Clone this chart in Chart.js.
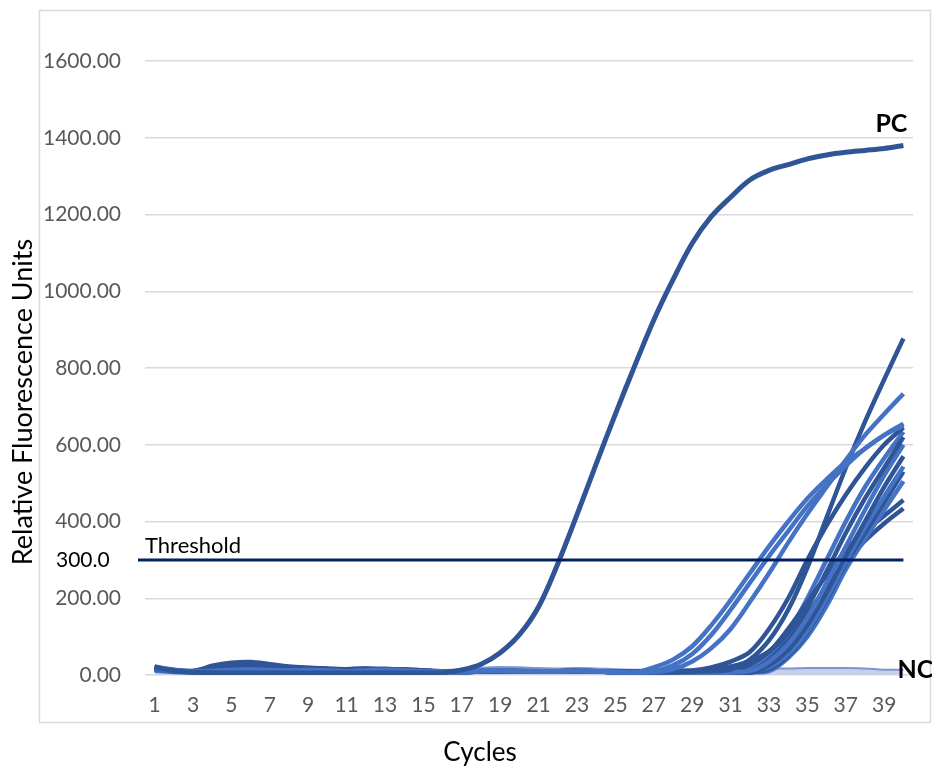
<!DOCTYPE html>
<html>
<head>
<meta charset="utf-8">
<title>qPCR amplification curves</title>
<script src="https://cdn.jsdelivr.net/npm/chart.js@4/dist/chart.umd.min.js"></script>
<style>
  html, body { margin: 0; padding: 0; background: #fff; }
  #wrap { width: 932px; height: 769px; }
</style>
</head>
<body>
<div id="wrap"><canvas id="myChart" width="932" height="769"></canvas></div>
<script>
// cycles on the x axis
const cycles = [1,2,3,4,5,6,7,8,9,10,11,12,13,14,15,16,17,18,19,20,
                21,22,23,24,25,26,27,28,29,30,31,32,33,34,35,36,37,38,39,40];

// y axis ticks
const yTicks = [0, 200, 400, 600, 800, 1000, 1200, 1400, 1600];
const threshold = 300;

// positive control
const pc = [20,11,7,6,5,5,5,5,5,5,5,5,5,5,5,6,13,28,58,105,
            178,290,418,550,680,805,925,1030,1125,1195,1245,1290,1315,1330,1345,1355,1362,1367,1372,1380];

// samples (light = #4472c4, dark = #2f5597)
const s01 = [22,14,10,10,12,14,12,11,13,12,10,12,14,12,10,9,10,12,11,10,9,10,12,10,8,
             6,20,40,75,130,195,265,335,400,460,510,555,590,625,655];
const s02 = [18,12,9,11,14,15,13,12,12,11,10,11,12,11,9,8,9,11,12,11,10,9,11,10,8,
             7,10,25,55,105,170,240,310,375,440,495,545,590,625,650];
const s03 = [16,11,8,9,11,12,11,10,11,10,9,10,11,10,9,8,8,10,11,10,9,9,10,9,8,
             7,8,15,35,70,120,190,265,345,420,490,560,625,680,733];
const s04 = [20,13,10,24,32,34,28,22,19,17,15,17,14,15,12,10,9,10,11,11,10,10,11,10,9,
             8,8,8,9,10,15,40,90,170,280,410,540,660,770,877];
const s05 = [18,12,11,20,28,30,24,20,18,16,15,16,14,14,12,10,9,10,11,10,10,10,11,10,9,
             8,9,10,12,20,35,60,120,200,300,390,470,540,600,645];
const s06 = [15,10,9,12,16,18,16,14,15,13,12,14,13,12,10,9,8,9,10,10,9,9,10,9,8,
             8,8,8,10,14,22,36,62,108,178,270,370,460,540,620];
const s07 = [14,9,8,10,13,15,13,12,14,13,12,13,14,12,10,9,8,9,10,9,9,9,10,9,8,
             8,8,8,8,8,8,10,35,80,150,240,335,430,520,600];
const s08 = [17,11,9,14,20,22,18,16,16,14,13,15,16,13,11,9,9,10,10,10,9,10,10,9,8,
             8,8,8,8,8,8,5,25,65,130,215,310,400,490,570];
const s09 = [12,8,7,9,11,12,11,10,12,11,10,11,12,11,9,8,8,9,10,9,9,9,9,9,8,
             8,8,8,8,8,8,8,20,55,115,200,295,385,465,543];
const s10 = [16,10,9,13,18,20,17,15,15,14,13,15,14,13,11,9,8,9,10,10,9,9,10,9,8,
             8,8,8,8,8,8,8,15,50,110,195,290,370,450,530];
const s11 = [13,9,8,10,12,13,12,11,12,11,10,12,12,11,9,8,8,9,10,9,9,9,9,9,8,
             8,8,8,8,8,8,8,10,45,100,180,275,355,430,505];
const s12 = [15,10,9,12,15,16,15,13,14,13,12,13,13,12,10,9,8,9,10,10,9,9,10,9,8,
             8,8,8,8,10,14,26,60,120,190,260,325,375,415,456];
const s13 = [14,10,9,11,14,15,14,13,13,12,11,12,12,11,10,9,8,9,10,9,9,9,9,9,8,
             8,8,8,8,8,8,10,40,90,160,230,295,350,395,434];
const s14 = [16,11,9,12,15,17,15,14,14,13,12,13,13,12,10,9,8,9,10,10,9,9,10,9,8,
             8,8,8,8,8,8,15,45,110,200,300,400,490,565,634];

// negative control
const nc = [16,14,12,12,13,14,13,14,15,14,13,14,15,14,13,13,15,19,21,20,
            18,17,18,17,15,14,15,16,15,14,15,16,17,17,18,18,18,17,14,14];

const LIGHT = '#4472c4';
const DARK = '#2f5597';
const FONT = 'Lato, "Open Sans", sans-serif';

const samples = [
  [s01, LIGHT], [s02, LIGHT], [s03, LIGHT], [s04, DARK], [s05, DARK],
  [s06, DARK], [s07, LIGHT], [s08, DARK], [s09, LIGHT], [s10, DARK],
  [s11, LIGHT], [s12, DARK], [s13, DARK], [s14, LIGHT]
];

function line(label, data, color, width) {
  return {
    label: label,
    data: data,
    borderColor: color,
    borderWidth: width,
    pointRadius: 0,
    tension: 0.35,
    fill: false
  };
}

const datasets = [line('PC', pc, DARK, 5)];
samples.forEach((s, i) => datasets.push(line('S' + (i + 1), s[0], s[1], 4.5)));
datasets.push({
  label: 'NC',
  data: nc,
  borderColor: '#7f95cf',
  borderWidth: 2,
  backgroundColor: '#c8d0e9',
  pointRadius: 0,
  tension: 0.35,
  fill: 'origin'
});

// frame, threshold line and the free text labels
const overlay = {
  id: 'overlay',
  beforeDraw(chart) {
    const c = chart.ctx;
    c.save();
    c.strokeStyle = '#d9d9d9';
    c.lineWidth = 1.5;
    c.strokeRect(39.5, 10.5, 891, 712);
    c.restore();
  },
  afterDatasetsDraw(chart) {
    const c = chart.ctx;
    const x = chart.scales.x, y = chart.scales.y;
    const area = chart.chartArea;
    const ty = y.getPixelForValue(threshold);
    const lastX = x.getPixelForValue(cycles.length - 1);

    c.save();
    c.strokeStyle = '#002060';
    c.lineWidth = 3;
    c.beginPath();
    c.moveTo(area.left - 7, ty);
    c.lineTo(lastX, ty);
    c.stroke();

    c.fillStyle = '#000';
    c.font = '22px ' + FONT;
    c.textBaseline = 'middle';
    c.textAlign = 'left';
    c.fillText('Threshold', area.left, ty - 14);
    c.font = '21px ' + FONT;
    c.fillText('300.0', 56, ty);

    c.font = 'bold 25px ' + FONT;
    c.textAlign = 'right';
    c.fillText('PC', lastX + 4, y.getPixelForValue(pc[pc.length - 1]) - 21);
    c.textAlign = 'left';
    c.fillText('NC', lastX - 6, y.getPixelForValue(nc[nc.length - 1]));

    c.font = '26px ' + FONT;
    c.textAlign = 'center';
    c.fillText('Cycles', 480, 753);

    c.translate(23, 402);
    c.rotate(-Math.PI / 2);
    c.font = '27px ' + FONT;
    c.fillText('Relative Fluorescence Units', 0, 0);
    c.restore();
  }
};

new Chart(document.getElementById('myChart'), {
  type: 'line',
  data: { labels: cycles, datasets: datasets },
  plugins: [overlay],
  options: {
    responsive: false,
    animation: false,
    layout: { padding: { top: 61, right: 19, bottom: 0, left: 0 } },
    plugins: {
      legend: { display: false },
      tooltip: { enabled: false }
    },
    scales: {
      x: {
        offset: true,
        grid: { display: false, drawTicks: false },
        border: { display: false },
        afterFit(scale) { scale.height = 94; },
        ticks: {
          autoSkip: false,
          maxRotation: 0,
          padding: 18,
          color: '#595959',
          font: { family: FONT, size: 21 },
          callback(val, i) { return i % 2 === 0 ? cycles[i] : ''; }
        }
      },
      y: {
        min: yTicks[0],
        max: yTicks[yTicks.length - 1],
        afterFit(scale) { scale.width = 145; },
        afterBuildTicks(scale) { scale.ticks = yTicks.map(v => ({ value: v })); },
        grid: { color: '#d9d9d9', lineWidth: 1.5, drawTicks: false },
        border: { display: false },
        ticks: {
          padding: 24,
          color: '#595959',
          font: { family: FONT, size: 21 },
          callback(v) { return v.toFixed(2); }
        }
      }
    }
  }
});
</script>
</body>
</html>
